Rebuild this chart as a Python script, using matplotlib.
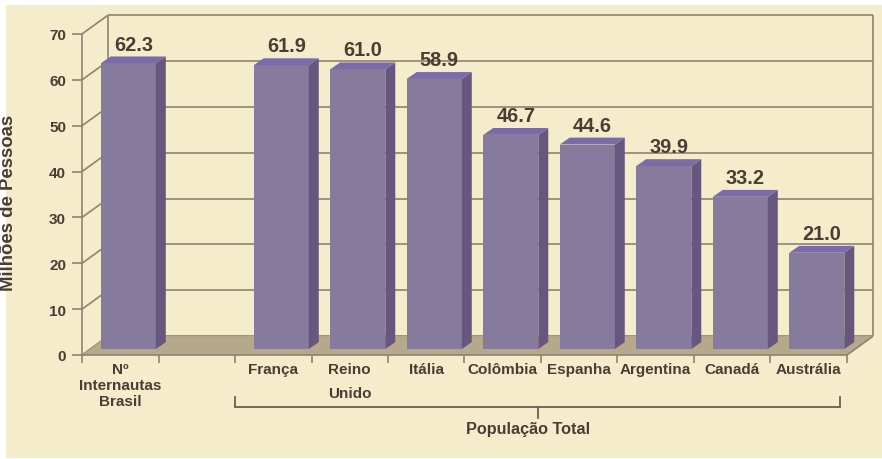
import numpy as np
import matplotlib.pyplot as plt
from matplotlib.patches import Polygon, Rectangle

# data
categories = ["Nº\nInternautas\nBrasil", "França", "Reino\nUnido", "Itália", "Colômbia",
              "Espanha", "Argentina", "Canadá", "Austrália"]
slots = [0, 2, 3, 4, 5, 6, 7, 8, 9]
values = [62.3, 61.9, 61.0, 58.9, 46.7, 44.6, 39.9, 33.2, 21.0]
yticks = [0, 10, 20, 30, 40, 50, 60, 70]
group_label = "População Total"
ylabel = "Milhões de Pessoas"

# colours
BG = "#F4ECCB"
FLOOR = "#B5A88B"
FRONT = "#877B9D"
SIDE = "#67577F"
TOP = "#7B6BA8"
LINE = "#8E8372"
TEXT = "#4A3D34"

plt.rcParams['font.family'] = ['Liberation Sans', 'DejaVu Sans']
plt.rcParams['font.weight'] = 'bold'

# fake 3d: depth of the walls and of the bars, in data units
WX, WY = 0.34, 4.1
BX, BY = 0.13, 1.5
SX, SY = 0.105, 1.3
W = 0.72

fig = plt.figure(figsize=(8.82, 4.6), dpi=100)
fig.patch.set_facecolor("white")
fig.add_artist(Rectangle((6 / 882, 1 / 460), 876 / 882, 453 / 460, transform=fig.transFigure,
                         facecolor=BG, edgecolor="none", zorder=-10))

ax = fig.add_axes([82 / 882, 104 / 460, 765 / 882, 321 / 460])
ax.set_xlim(-0.5, 9.5)
ax.set_ylim(0, 70)
ax.patch.set_visible(False)
for s in ax.spines.values():
    s.set_visible(False)

x0, x1 = -0.5, 9.5
ymax = yticks[-1]
lkw = dict(color=LINE, lw=1.2, clip_on=False, solid_capstyle="butt")

# back wall grid and left wall diagonals
for v in yticks:
    ax.plot([x0 + WX, x1 + WX], [v + WY, v + WY], zorder=1, **lkw)
    ax.plot([x0, x0 + WX], [v, v + WY], zorder=1, **lkw)
ax.plot([x0 + WX, x0 + WX], [WY, ymax + WY], zorder=1, **lkw)
ax.plot([x1 + WX, x1 + WX], [WY, ymax + WY], zorder=1, **lkw)
ax.plot([x0, x0], [0, ymax], zorder=1, **lkw)

# floor
ax.add_patch(Polygon([(x0, 0), (x1, 0), (x1 + WX, WY), (x0 + WX, WY)], closed=True,
                     facecolor=FLOOR, edgecolor="none", zorder=2, clip_on=False))
ax.plot([x0, x1, x1 + WX], [0, 0, WY], zorder=2, **lkw)

# bars: front faces from the axis, side and top faces as polygons
xs = np.array(slots) + SX
ax.bar(xs, values, width=W, bottom=SY, color=FRONT, zorder=3, clip_on=False)
for x, v in zip(xs, values):
    l, r = x - W / 2, x + W / 2
    t = SY + v
    ax.add_patch(Polygon([(r, SY), (r + BX, SY + BY), (r + BX, t + BY), (r, t)], closed=True,
                         facecolor=SIDE, edgecolor="none", zorder=3, clip_on=False))
    ax.add_patch(Polygon([(l, t), (r, t), (r + BX, t + BY), (l + BX, t + BY)], closed=True,
                         facecolor=TOP, edgecolor="none", zorder=3, clip_on=False))
    ax.annotate(f"{v:.1f}", (x + BX / 2, t + BY), xytext=(0, 5), textcoords="offset points",
                ha="center", va="baseline", fontsize=14.4, color=TEXT, fontweight="bold")

# axes ticks
ax.set_yticks(yticks)
ax.tick_params(axis="y", length=7.2, width=1.2, color=LINE, labelsize=11,
               labelcolor=TEXT, pad=4.3)
ax.set_xticks(slots)
ax.set_xticklabels(categories)
ax.set_xticks(np.arange(x0, x1 + 0.5, 1), minor=True)
ax.tick_params(axis="x", which="major", length=0, labelsize=11, labelcolor=TEXT, pad=5)
ax.tick_params(axis="x", which="minor", length=6, width=1.2, color=LINE)
for lab in ax.get_xticklabels():
    lab.set_linespacing(1.2)
ax.get_xticklabels()[2].set_linespacing(1.9)

ax.set_ylabel(ylabel, fontsize=13.4, color=TEXT, fontweight="bold")
ax.yaxis.set_label_coords(-0.085, 0.477)

# bracket under the country group
bx0, bx1 = 1.5, 9.41
bm = (bx0 + bx1) / 2
ax.plot([bx0, bx0, bx1, bx1], [-9.2, -11.3, -11.3, -9.2], color="#6B5F54", lw=1.3,
        clip_on=False, solid_joinstyle="miter")
ax.plot([bm, bm], [-11.3, -13.7], color="#6B5F54", lw=1.3, clip_on=False)
ax.text(bm - 0.12, -16.1, group_label, ha="center", va="center", fontsize=11.7,
        color=TEXT, fontweight="bold")

fig.savefig("out.png", dpi=100, facecolor=fig.get_facecolor())
